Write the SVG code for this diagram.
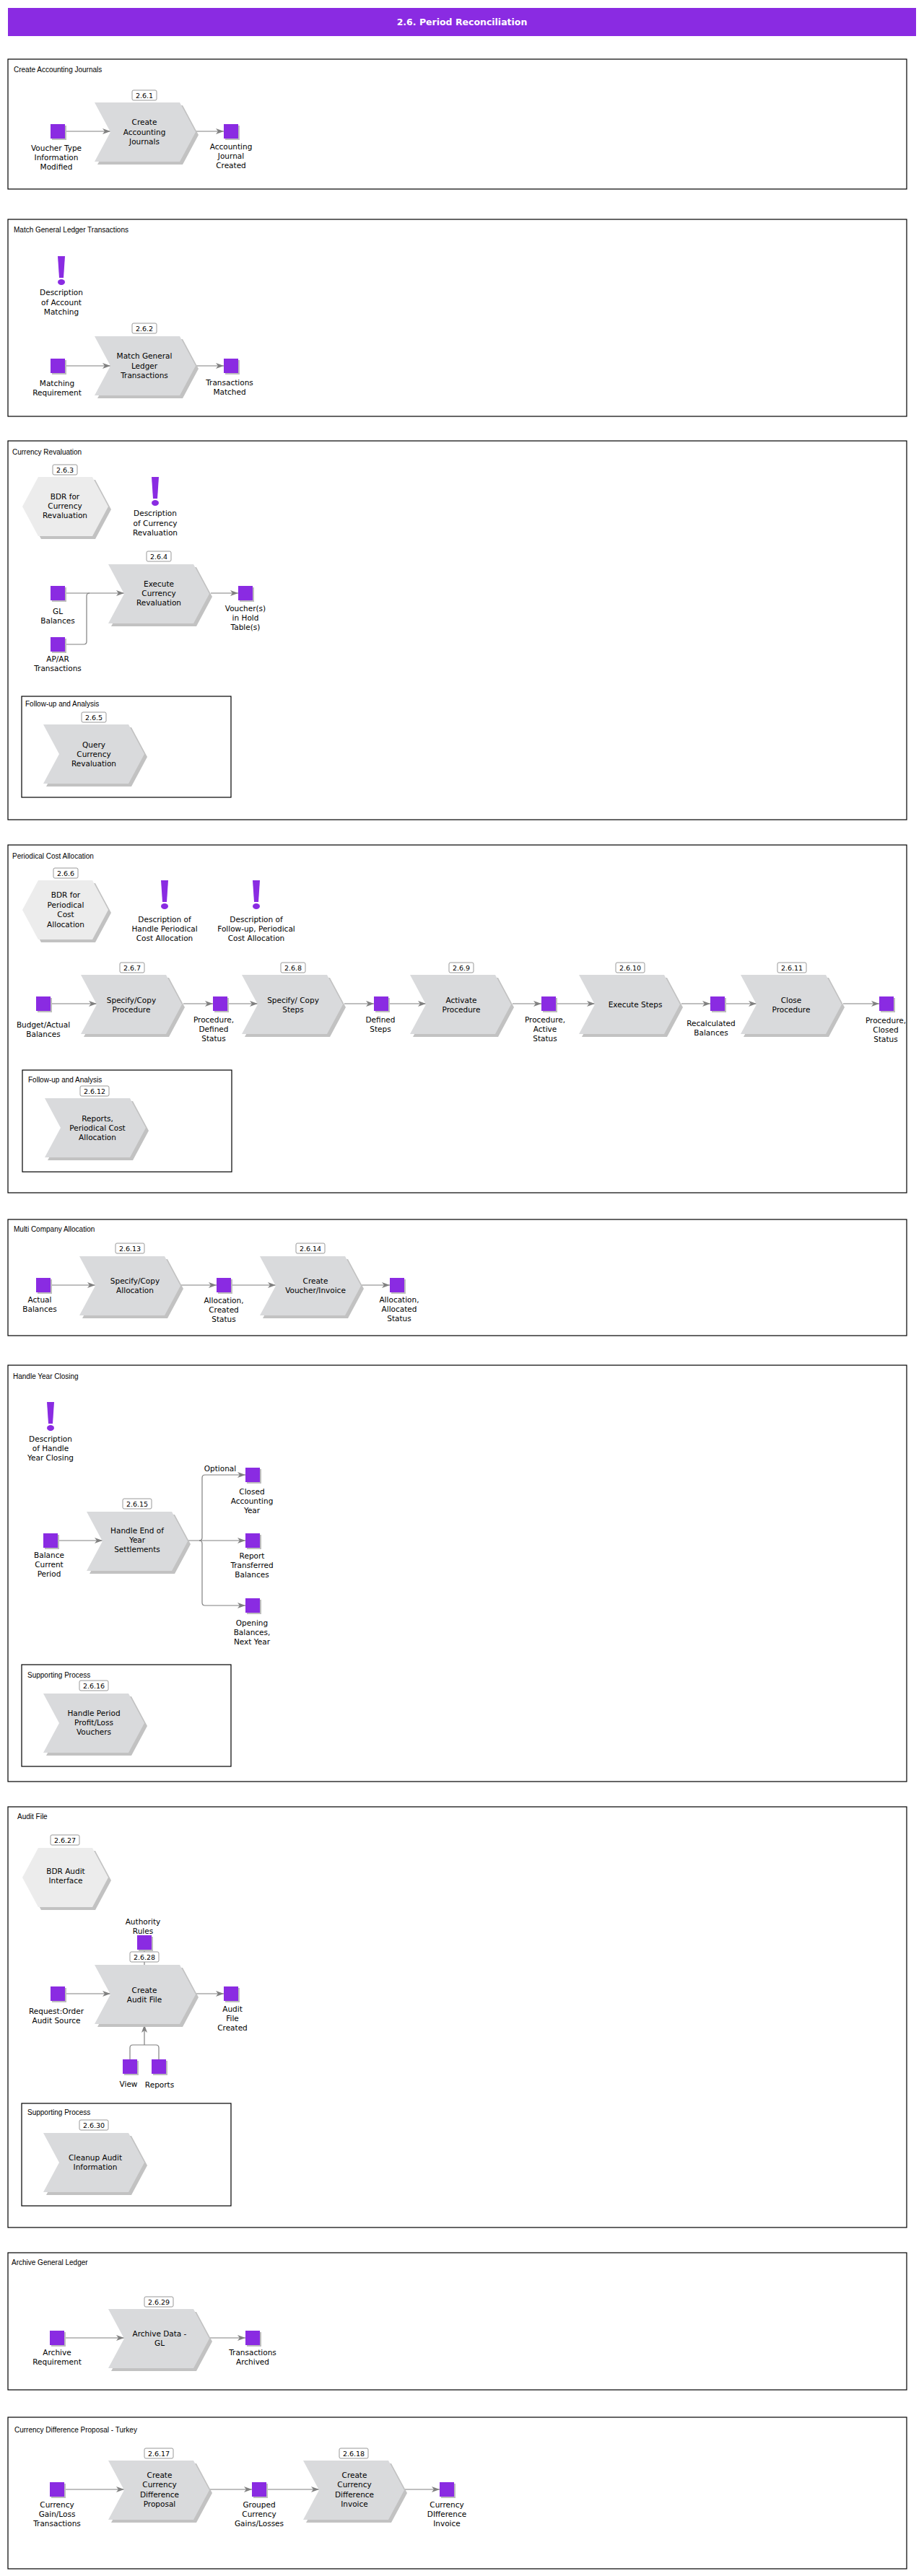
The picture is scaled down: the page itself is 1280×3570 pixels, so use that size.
<svg xmlns="http://www.w3.org/2000/svg" xmlns:xlink="http://www.w3.org/1999/xlink" width="1280" height="3570" viewBox="0 0 1280 3570">
<style>
.box{fill:none;stroke:#000;stroke-width:1.2}
.ttl{font-family:"Liberation Sans",Arial,sans-serif;font-size:10px;fill:#000}
.lbl{font-family:"DejaVu Sans",Verdana,sans-serif;font-size:10.5px;fill:#000;text-anchor:middle}
.tagr{fill:#fff;stroke:#999;stroke-width:1}
.tagt{font-family:"DejaVu Sans",Verdana,sans-serif;font-size:9.5px;fill:#000;text-anchor:middle}
.con{fill:none;stroke:#808080;stroke-width:1.2}
.arr{marker-end:url(#ah)}
.chev{fill:#d9dadc}
.hex{fill:#ececec}
.shd{fill:#c2c2c2}
.pur{fill:#8a2be2}
</style>
<defs>
<marker id="ah" markerWidth="11" markerHeight="8" refX="11" refY="4" orient="auto" markerUnits="userSpaceOnUse"><path d="M0,0 L11,4 L0,8 L3,4 z" fill="#808080"/></marker>
<g id="chev"><polygon class="shd" points="4,4 122,4 144,45 122,86 4,86 26,45"/><polygon class="chev" points="0,0 118,0 140,41 118,82 0,82 22,41"/></g>
<g id="hex"><polygon class="shd" points="26,4 101,4 123,45 101,86 26,86 4,45"/><polygon class="hex" points="22,0 97,0 119,41 97,82 22,82 0,41"/></g>
<g id="sq"><rect x="-8" y="-8" width="20" height="20" fill="#bdbdbd"/><rect x="-10" y="-10" width="20" height="20" class="pur"/></g>
<g id="exc"><polygon class="pur" points="-5,0 5,0 3,30 -3,30"/><ellipse class="pur" cx="0" cy="36" rx="5" ry="4"/></g>
</defs>

<g id="header"><rect x="11" y="11" width="1258" height="39" fill="#8a2be2"/><text x="640" y="35" text-anchor="middle" font-family="DejaVu Sans,Verdana,sans-serif" font-weight="bold" font-size="12.5px" fill="#fff">2.6. Period Reconciliation</text></g>

<!-- frames -->
<g id="frames">
<rect class="box" x="11" y="82" width="1245" height="180"/><text class="ttl" x="19" y="100">Create Accounting Journals</text>
<rect class="box" x="11" y="304" width="1245" height="273"/><text class="ttl" x="19" y="322">Match General Ledger Transactions</text>
<rect class="box" x="11" y="611" width="1245" height="525"/><text class="ttl" x="17" y="630">Currency Revaluation</text>
<rect class="box" x="30" y="965" width="290" height="140"/><text class="ttl" x="35" y="979">Follow-up and Analysis</text>
<rect class="box" x="11" y="1171" width="1245" height="482"/><text class="ttl" x="17" y="1190">Periodical Cost Allocation</text>
<rect class="box" x="31" y="1483" width="290" height="141"/><text class="ttl" x="39" y="1500">Follow-up and Analysis</text>
<rect class="box" x="11" y="1690" width="1245" height="161"/><text class="ttl" x="19" y="1707">Multi Company Allocation</text>
<rect class="box" x="11" y="1892" width="1245" height="577"/><text class="ttl" x="18" y="1911">Handle Year Closing</text>
<rect class="box" x="30" y="2307" width="290" height="141"/><text class="ttl" x="38" y="2325">Supporting Process</text>
<rect class="box" x="11" y="2504" width="1245" height="583"/><text class="ttl" x="24" y="2521">Audit File</text>
<rect class="box" x="30" y="2915" width="290" height="142"/><text class="ttl" x="38" y="2931">Supporting Process</text>
<rect class="box" x="11" y="3122" width="1245" height="190"/><text class="ttl" x="16" y="3139">Archive General Ledger</text>
<rect class="box" x="11" y="3350" width="1245" height="210"/><text class="ttl" x="20" y="3371">Currency Difference Proposal - Turkey</text>
</g>

<g id="connectors">
<line class="con arr" x1="90" y1="182" x2="153" y2="182"/>
<line class="con arr" x1="271" y1="182" x2="310" y2="182"/>
<line class="con arr" x1="90" y1="507" x2="153" y2="507"/>
<line class="con arr" x1="271" y1="507" x2="310" y2="507"/>
<line class="con arr" x1="90" y1="822" x2="172" y2="822"/>
<path class="con" d="M90,893 H116 Q120,893 120,889 V826 Q120,822 124,822"/>
<line class="con arr" x1="292" y1="822" x2="330" y2="822"/>
<line class="con arr" x1="70" y1="1391" x2="134" y2="1391"/>
<line class="con arr" x1="254" y1="1391" x2="295" y2="1391"/>
<line class="con arr" x1="315" y1="1391" x2="357" y2="1391"/>
<line class="con arr" x1="477" y1="1391" x2="518" y2="1391"/>
<line class="con arr" x1="538" y1="1391" x2="590" y2="1391"/>
<line class="con arr" x1="710" y1="1391" x2="750" y2="1391"/>
<line class="con arr" x1="770" y1="1391" x2="824" y2="1391"/>
<line class="con arr" x1="944" y1="1391" x2="984" y2="1391"/>
<line class="con arr" x1="1004" y1="1391" x2="1048" y2="1391"/>
<line class="con arr" x1="1168" y1="1391" x2="1218" y2="1391"/>
<line class="con arr" x1="70" y1="1781" x2="132" y2="1781"/>
<line class="con arr" x1="251" y1="1781" x2="300" y2="1781"/>
<line class="con arr" x1="320" y1="1781" x2="382" y2="1781"/>
<line class="con arr" x1="501" y1="1781" x2="540" y2="1781"/>
<line class="con arr" x1="80" y1="2135" x2="142" y2="2135"/>
<line class="con arr" x1="261" y1="2135" x2="340" y2="2135"/>
<path class="con arr" d="M276,2135 Q280,2135 280,2131 V2048 Q280,2044 284,2044 H340"/>
<path class="con arr" d="M276,2135 Q280,2135 280,2139 V2221 Q280,2225 284,2225 H340"/>
<line class="con" x1="200" y1="2702" x2="200" y2="2723"/>
<line class="con arr" x1="90" y1="2763" x2="153" y2="2763"/>
<line class="con arr" x1="271" y1="2763" x2="310" y2="2763"/>
<path class="con" d="M180,2854 V2838 Q180,2834 184,2834 H216 Q220,2834 220,2838 V2854"/>
<line class="con arr" x1="200" y1="2834" x2="200" y2="2806"/>
<line class="con arr" x1="89" y1="3240" x2="172" y2="3240"/>
<line class="con arr" x1="291" y1="3240" x2="340" y2="3240"/>
<line class="con arr" x1="89" y1="3450" x2="172" y2="3450"/>
<line class="con arr" x1="291" y1="3450" x2="349" y2="3450"/>
<line class="con arr" x1="369" y1="3450" x2="442" y2="3450"/>
<line class="con arr" x1="561" y1="3450" x2="609" y2="3450"/>
</g>

<!-- Section 1 -->
<g id="n261"><use xlink:href="#chev" x="131" y="142"/><rect class="tagr" x="183" y="125" width="34" height="14" rx="2"/><text class="tagt" x="200" y="136">2.6.1</text><text class="lbl" x="200" y="173">Create<tspan x="200" dy="13.5">Accounting</tspan><tspan x="200" dy="13.5">Journals</tspan></text></g>
<g id="e1a"><use xlink:href="#sq" x="80" y="182"/><text class="lbl" x="78" y="209">Voucher Type<tspan x="78" dy="13">Information</tspan><tspan x="78" dy="13">Modified</tspan></text></g>
<g id="e1b"><use xlink:href="#sq" x="320" y="182"/><text class="lbl" x="320" y="207">Accounting<tspan x="320" dy="13">Journal</tspan><tspan x="320" dy="13">Created</tspan></text></g>

<!-- Section 2 -->
<g id="i2"><use xlink:href="#exc" x="85" y="355"/><text class="lbl" x="85" y="409">Description<tspan x="85" dy="13.5">of Account</tspan><tspan x="85" dy="13.5">Matching</tspan></text></g>
<g id="n262"><use xlink:href="#chev" x="131" y="466"/><rect class="tagr" x="183" y="448" width="34" height="14" rx="2"/><text class="tagt" x="200" y="459">2.6.2</text><text class="lbl" x="200" y="497">Match General<tspan x="200" dy="13.5">Ledger</tspan><tspan x="200" dy="13.5">Transactions</tspan></text></g>
<g id="e2a"><use xlink:href="#sq" x="80" y="507"/><text class="lbl" x="79" y="535">Matching<tspan x="79" dy="13">Requirement</tspan></text></g>
<g id="e2b"><use xlink:href="#sq" x="320" y="507"/><text class="lbl" x="318" y="534">Transactions<tspan x="318" dy="13">Matched</tspan></text></g>

<!-- Section 3 -->
<g id="n263"><use xlink:href="#hex" x="31" y="661"/><rect class="tagr" x="73" y="644" width="34" height="14" rx="2"/><text class="tagt" x="90" y="655">2.6.3</text><text class="lbl" x="90" y="692">BDR for<tspan x="90" dy="13">Currency</tspan><tspan x="90" dy="13">Revaluation</tspan></text></g>
<g id="i3"><use xlink:href="#exc" x="215" y="661"/><text class="lbl" x="215" y="715">Description<tspan x="215" dy="13.5">of Currency</tspan><tspan x="215" dy="13.5">Revaluation</tspan></text></g>
<g id="n264"><use xlink:href="#chev" x="150" y="782"/><rect class="tagr" x="203" y="764" width="34" height="14" rx="2"/><text class="tagt" x="220" y="775">2.6.4</text><text class="lbl" x="220" y="813">Execute<tspan x="220" dy="13">Currency</tspan><tspan x="220" dy="13">Revaluation</tspan></text></g>
<g id="e3a"><use xlink:href="#sq" x="80" y="822"/><text class="lbl" x="80" y="851">GL<tspan x="80" dy="13">Balances</tspan></text></g>
<g id="e3b"><use xlink:href="#sq" x="80" y="893"/><text class="lbl" x="80" y="917">AP/AR<tspan x="80" dy="13">Transactions</tspan></text></g>
<g id="e3c"><use xlink:href="#sq" x="340" y="822"/><text class="lbl" x="340" y="847">Voucher(s)<tspan x="340" dy="13">in Hold</tspan><tspan x="340" dy="13">Table(s)</tspan></text></g>
<g id="n265"><use xlink:href="#chev" x="60" y="1004"/><rect class="tagr" x="113" y="987" width="34" height="14" rx="2"/><text class="tagt" x="130" y="998">2.6.5</text><text class="lbl" x="130" y="1036">Query<tspan x="130" dy="13">Currency</tspan><tspan x="130" dy="13">Revaluation</tspan></text></g>

<!-- Section 4 -->
<g id="n266"><use xlink:href="#hex" x="31" y="1220"/><rect class="tagr" x="74" y="1203" width="34" height="14" rx="2"/><text class="tagt" x="91" y="1214">2.6.6</text><text class="lbl" x="91" y="1244">BDR for<tspan x="91" dy="13.5">Periodical</tspan><tspan x="91" dy="13.5">Cost</tspan><tspan x="91" dy="13.5">Allocation</tspan></text></g>
<g id="i4a"><use xlink:href="#exc" x="228" y="1220"/><text class="lbl" x="228" y="1278">Description of<tspan x="228" dy="13">Handle Periodical</tspan><tspan x="228" dy="13">Cost Allocation</tspan></text></g>
<g id="i4b"><use xlink:href="#exc" x="355" y="1220"/><text class="lbl" x="355" y="1278">Description of<tspan x="355" dy="13">Follow-up, Periodical</tspan><tspan x="355" dy="13">Cost Allocation</tspan></text></g>
<g id="n267"><use xlink:href="#chev" x="112" y="1351"/><rect class="tagr" x="166" y="1334" width="34" height="14" rx="2"/><text class="tagt" x="183" y="1345">2.6.7</text><text class="lbl" x="182" y="1390">Specify/Copy<tspan x="182" dy="13">Procedure</tspan></text></g>
<g id="n268"><use xlink:href="#chev" x="335" y="1351"/><rect class="tagr" x="389" y="1334" width="34" height="14" rx="2"/><text class="tagt" x="406" y="1345">2.6.8</text><text class="lbl" x="406" y="1390">Specify/ Copy<tspan x="406" dy="13">Steps</tspan></text></g>
<g id="n269"><use xlink:href="#chev" x="568" y="1351"/><rect class="tagr" x="622" y="1334" width="34" height="14" rx="2"/><text class="tagt" x="639" y="1345">2.6.9</text><text class="lbl" x="639" y="1390">Activate<tspan x="639" dy="13">Procedure</tspan></text></g>
<g id="n2610"><use xlink:href="#chev" x="802" y="1351"/><rect class="tagr" x="853" y="1334" width="40" height="14" rx="2"/><text class="tagt" x="873" y="1345">2.6.10</text><text class="lbl" x="880" y="1396">Execute Steps</text></g>
<g id="n2611"><use xlink:href="#chev" x="1026" y="1351"/><rect class="tagr" x="1077" y="1334" width="40" height="14" rx="2"/><text class="tagt" x="1097" y="1345">2.6.11</text><text class="lbl" x="1096" y="1390">Close<tspan x="1096" dy="13">Procedure</tspan></text></g>
<g id="e4a"><use xlink:href="#sq" x="60" y="1391"/><text class="lbl" x="60" y="1424">Budget/Actual<tspan x="60" dy="13">Balances</tspan></text></g>
<g id="e4b"><use xlink:href="#sq" x="305" y="1391"/><text class="lbl" x="296" y="1417">Procedure,<tspan x="296" dy="13">Defined</tspan><tspan x="296" dy="13">Status</tspan></text></g>
<g id="e4c"><use xlink:href="#sq" x="528" y="1391"/><text class="lbl" x="527" y="1417">Defined<tspan x="527" dy="13">Steps</tspan></text></g>
<g id="e4d"><use xlink:href="#sq" x="760" y="1391"/><text class="lbl" x="755" y="1417">Procedure,<tspan x="755" dy="13">Active</tspan><tspan x="755" dy="13">Status</tspan></text></g>
<g id="e4e"><use xlink:href="#sq" x="994" y="1391"/><text class="lbl" x="985" y="1422">Recalculated<tspan x="985" dy="13">Balances</tspan></text></g>
<g id="e4f"><use xlink:href="#sq" x="1228" y="1391"/><text class="lbl" x="1227" y="1418">Procedure,<tspan x="1227" dy="13">Closed</tspan><tspan x="1227" dy="13">Status</tspan></text></g>
<g id="n2612"><use xlink:href="#chev" x="62" y="1522"/><rect class="tagr" x="111" y="1505" width="40" height="14" rx="2"/><text class="tagt" x="131" y="1516">2.6.12</text><text class="lbl" x="135" y="1554">Reports,<tspan x="135" dy="13">Periodical Cost</tspan><tspan x="135" dy="13">Allocation</tspan></text></g>

<!-- Section 5 -->
<g id="n2613"><use xlink:href="#chev" x="110" y="1741"/><rect class="tagr" x="160" y="1723" width="40" height="14" rx="2"/><text class="tagt" x="180" y="1734">2.6.13</text><text class="lbl" x="187" y="1779">Specify/Copy<tspan x="187" dy="13">Allocation</tspan></text></g>
<g id="n2614"><use xlink:href="#chev" x="360" y="1741"/><rect class="tagr" x="410" y="1723" width="40" height="14" rx="2"/><text class="tagt" x="430" y="1734">2.6.14</text><text class="lbl" x="437" y="1779">Create<tspan x="437" dy="13">Voucher/Invoice</tspan></text></g>
<g id="e5a"><use xlink:href="#sq" x="60" y="1781"/><text class="lbl" x="55" y="1805">Actual<tspan x="55" dy="13">Balances</tspan></text></g>
<g id="e5b"><use xlink:href="#sq" x="310" y="1781"/><text class="lbl" x="310" y="1806">Allocation,<tspan x="310" dy="13">Created</tspan><tspan x="310" dy="13">Status</tspan></text></g>
<g id="e5c"><use xlink:href="#sq" x="550" y="1781"/><text class="lbl" x="553" y="1805">Allocation,<tspan x="553" dy="13">Allocated</tspan><tspan x="553" dy="13">Status</tspan></text></g>

<!-- Section 6 -->
<g id="i6"><use xlink:href="#exc" x="70" y="1943"/><text class="lbl" x="70" y="1998">Description<tspan x="70" dy="13">of Handle</tspan><tspan x="70" dy="13">Year Closing</tspan></text></g>
<g id="n2615"><use xlink:href="#chev" x="120" y="2095"/><rect class="tagr" x="170" y="2077" width="40" height="14" rx="2"/><text class="tagt" x="190" y="2088">2.6.15</text><text class="lbl" x="190" y="2125">Handle End of<tspan x="190" dy="13">Year</tspan><tspan x="190" dy="13">Settlements</tspan></text></g>
<g id="e6a"><use xlink:href="#sq" x="70" y="2135"/><text class="lbl" x="68" y="2159">Balance<tspan x="68" dy="13">Current</tspan><tspan x="68" dy="13">Period</tspan></text></g>
<text class="lbl" x="305" y="2039">Optional</text>
<g id="e6b"><use xlink:href="#sq" x="350" y="2044"/><text class="lbl" x="349" y="2071">Closed<tspan x="349" dy="13">Accounting</tspan><tspan x="349" dy="13">Year</tspan></text></g>
<g id="e6c"><use xlink:href="#sq" x="350" y="2135"/><text class="lbl" x="349" y="2160">Report<tspan x="349" dy="13">Transferred</tspan><tspan x="349" dy="13">Balances</tspan></text></g>
<g id="e6d"><use xlink:href="#sq" x="350" y="2225"/><text class="lbl" x="349" y="2253">Opening<tspan x="349" dy="13">Balances,</tspan><tspan x="349" dy="13">Next Year</tspan></text></g>
<g id="n2616"><use xlink:href="#chev" x="60" y="2347"/><rect class="tagr" x="110" y="2329" width="40" height="14" rx="2"/><text class="tagt" x="130" y="2340">2.6.16</text><text class="lbl" x="130" y="2378">Handle Period<tspan x="130" dy="13">Profit/Loss</tspan><tspan x="130" dy="13">Vouchers</tspan></text></g>

<!-- Section 7 -->
<g id="n2627"><use xlink:href="#hex" x="31" y="2561"/><rect class="tagr" x="70" y="2543" width="40" height="14" rx="2"/><text class="tagt" x="90" y="2554">2.6.27</text><text class="lbl" x="91" y="2597">BDR Audit<tspan x="91" dy="13">Interface</tspan></text></g>
<g id="e7a"><use xlink:href="#sq" x="200" y="2692"/><text class="lbl" x="198" y="2667">Authority<tspan x="198" dy="13">Rules</tspan></text></g>
<g id="n2628"><use xlink:href="#chev" x="131" y="2723"/><rect class="tagr" x="180" y="2705" width="40" height="14" rx="2"/><text class="tagt" x="200" y="2716">2.6.28</text><text class="lbl" x="200" y="2762">Create<tspan x="200" dy="13">Audit File</tspan></text></g>
<g id="e7b"><use xlink:href="#sq" x="80" y="2763"/><text class="lbl" x="78" y="2791">Request:Order<tspan x="78" dy="13">Audit Source</tspan></text></g>
<g id="e7c"><use xlink:href="#sq" x="320" y="2763"/><text class="lbl" x="322" y="2788">Audit<tspan x="322" dy="13">File</tspan><tspan x="322" dy="13">Created</tspan></text></g>
<g id="e7d"><use xlink:href="#sq" x="180" y="2864"/><text class="lbl" x="178" y="2892">View</text></g>
<g id="e7e"><use xlink:href="#sq" x="220" y="2864"/><text class="lbl" x="221" y="2893">Reports</text></g>
<g id="n2630"><use xlink:href="#chev" x="60" y="2956"/><rect class="tagr" x="110" y="2938" width="40" height="14" rx="2"/><text class="tagt" x="130" y="2949">2.6.30</text><text class="lbl" x="132" y="2994">Cleanup Audit<tspan x="132" dy="13">Information</tspan></text></g>

<!-- Section 8 -->
<g id="n2629"><use xlink:href="#chev" x="150" y="3200"/><rect class="tagr" x="200" y="3183" width="40" height="14" rx="2"/><text class="tagt" x="220" y="3194">2.6.29</text><text class="lbl" x="221" y="3238">Archive Data -<tspan x="221" dy="13">GL</tspan></text></g>
<g id="e8a"><use xlink:href="#sq" x="79" y="3240"/><text class="lbl" x="79" y="3264">Archive<tspan x="79" dy="13">Requirement</tspan></text></g>
<g id="e8b"><use xlink:href="#sq" x="350" y="3240"/><text class="lbl" x="350" y="3264">Transactions<tspan x="350" dy="13">Archived</tspan></text></g>

<!-- Section 9 -->
<g id="n2617"><use xlink:href="#chev" x="150" y="3410"/><rect class="tagr" x="200" y="3393" width="40" height="14" rx="2"/><text class="tagt" x="220" y="3404">2.6.17</text><text class="lbl" x="221" y="3434">Create<tspan x="221" dy="13.3">Currency</tspan><tspan x="221" dy="13.3">Difference</tspan><tspan x="221" dy="13.3">Proposal</tspan></text></g>
<g id="n2618"><use xlink:href="#chev" x="420" y="3410"/><rect class="tagr" x="470" y="3393" width="40" height="14" rx="2"/><text class="tagt" x="490" y="3404">2.6.18</text><text class="lbl" x="491" y="3434">Create<tspan x="491" dy="13.3">Currency</tspan><tspan x="491" dy="13.3">Difference</tspan><tspan x="491" dy="13.3">Invoice</tspan></text></g>
<g id="e9a"><use xlink:href="#sq" x="79" y="3450"/><text class="lbl" x="79" y="3475">Currency<tspan x="79" dy="13">Gain/Loss</tspan><tspan x="79" dy="13">Transactions</tspan></text></g>
<g id="e9b"><use xlink:href="#sq" x="359" y="3450"/><text class="lbl" x="359" y="3475">Grouped<tspan x="359" dy="13">Currency</tspan><tspan x="359" dy="13">Gains/Losses</tspan></text></g>
<g id="e9c"><use xlink:href="#sq" x="619" y="3450"/><text class="lbl" x="619" y="3475">Currency<tspan x="619" dy="13">DIfference</tspan><tspan x="619" dy="13">Invoice</tspan></text></g>
</svg>
